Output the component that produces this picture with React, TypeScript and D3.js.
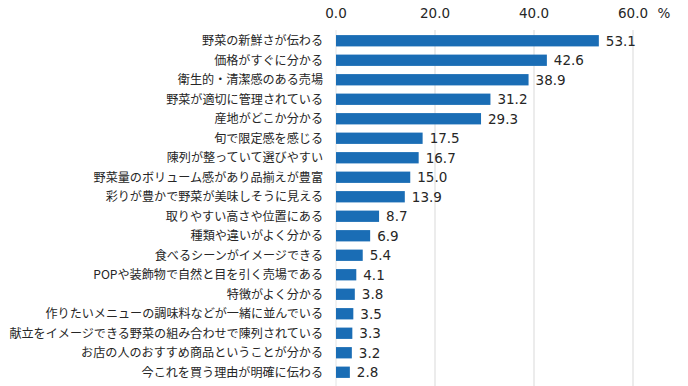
import React from "react";
import * as d3 from "d3";

const width = 688;
const height = 386;
const margin = { top: 31, right: 55, bottom: 4, left: 336 };

const labels = [
  "野菜の新鮮さが伝わる",
  "価格がすぐに分かる",
  "衛生的・清潔感のある売場",
  "野菜が適切に管理されている",
  "産地がどこか分かる",
  "旬で限定感を感じる",
  "陳列が整っていて選びやすい",
  "野菜量のボリューム感があり品揃えが豊富",
  "彩りが豊かで野菜が美味しそうに見える",
  "取りやすい高さや位置にある",
  "種類や違いがよく分かる",
  "食べるシーンがイメージできる",
  "POPや装飾物で自然と目を引く売場である",
  "特徴がよく分かる",
  "作りたいメニューの調味料などが一緒に並んでいる",
  "献立をイメージできる野菜の組み合わせで陳列されている",
  "お店の人のおすすめ商品ということが分かる",
  "今これを買う理由が明確に伝わる",
];
const values = [53.1, 42.6, 38.9, 31.2, 29.3, 17.5, 16.7, 15.0, 13.9, 8.7, 6.9, 5.4, 4.1, 3.8, 3.5, 3.3, 3.2, 2.8];
const ticks = [0, 20, 40, 60];

const font = "'Noto Sans CJK JP', 'Noto Sans', sans-serif";
const numFont = "'DejaVu Sans', Verdana, sans-serif";

export default function App() {
  const x = d3.scaleLinear().domain([0, 60]).range([margin.left, 633]);
  const y = d3
    .scaleBand()
    .domain(labels)
    .range([margin.top, height - margin.bottom])
    .paddingInner(0.42)
    .paddingOuter(0.21);

  return (
    <svg width={width} height={height} style={{ position: "absolute", left: 0, top: 0 }}>
      <rect width={width} height={height} fill="#fff" />
      {/* grid */}
      {ticks.map((t) => (
        <line key={t} x1={x(t)} x2={x(t)} y1={30} y2={386} stroke={t === 0 ? "#e4e4e4" : "#d9d9d9"} strokeWidth={1} />
      ))}
      {ticks.map((t) => (
        <text key={"t" + t} x={x(t)} y={18} textAnchor="middle" fontFamily={numFont} fontSize={13.5} fill="#262626">
          {t.toFixed(1)}
        </text>
      ))}
      <text x={664} y={18} textAnchor="middle" fontFamily={numFont} fontSize={13.5} fill="#262626">%</text>
      {labels.map((l, i) => {
        const yc = (y(l) ?? 0) + y.bandwidth() / 2;
        return (
          <g key={l}>
            <rect x={x(0)} y={y(l)} width={x(values[i]) - x(0)} height={y.bandwidth()} fill="#1a6db5" />
            <text x={323} y={yc} dy="0.36em" textAnchor="end" fontFamily={font} fontSize={12.1} fill="#262626">
              {l}
            </text>
            <text x={x(values[i]) + 7} y={yc} dy="0.36em" fontFamily={numFont} fontSize={13.5} fill="#262626">
              {values[i].toFixed(1)}
            </text>
          </g>
        );
      })}
    </svg>
  );
}
